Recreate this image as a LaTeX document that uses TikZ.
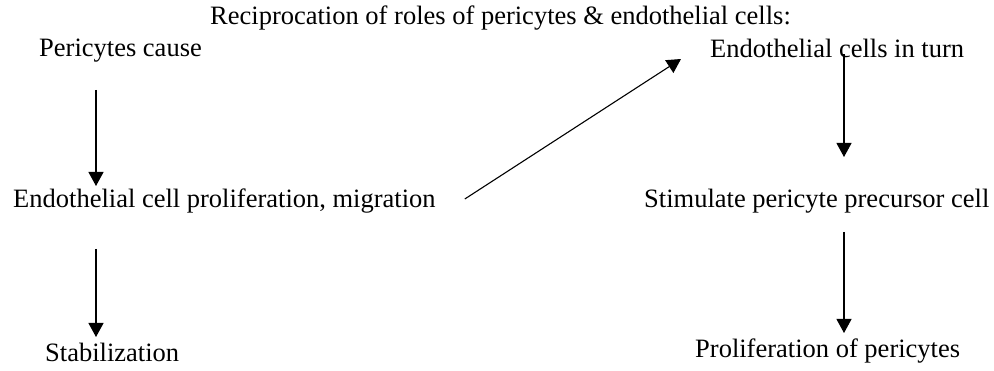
\documentclass[tikz,border=0pt]{standalone}
\usepackage{fontspec}
\setmainfont{Liberation Serif}
\usetikzlibrary{arrows.meta,calc}

\tikzset{
  lbl/.style={anchor=base west, inner sep=0pt, font=\fontsize{26.5}{30}\selectfont},
  arr/.style={-{Triangle[length=14pt,width=15pt]}, line width=1.1pt},
}

\begin{document}
\begin{tikzpicture}[x=1pt, y=-1pt]
    \useasboundingbox (0,0) rectangle (994,371);

    % Title
    \node[lbl] (title) at (210,25) {Reciprocation of roles of pericytes \& endothelial cells:};

    % Left column
    \node[lbl] (pc)   at (39,57)  {Pericytes cause};
    \node[lbl] (ecp)  at (13,208) {Endothelial cell proliferation, migration};
    \node[lbl] (stab) at (45,362) {Stabilization};

    % Right column
    \node[lbl] (ect) at (710,58)  {Endothelial cells in turn};
    \node[lbl] (spc) at (644,208) {Stimulate pericyte precursor cell};
    \node[lbl] (pop) at (695,358) {Proliferation of pericytes};

    % Arrow columns
    \coordinate (lx) at (96,0);
    \coordinate (rx) at (844,0);

    % Left arrows
    \draw[arr] ($(pc.base -| lx)+(0,33)$) -- ($(ecp.base -| lx)+(0,-22)$);
    \draw[arr] ($(ecp.base -| lx)+(0,41)$) -- ($(stab.base -| lx)+(0,-25)$);

    % Cross-over arrow
    \draw[arr] ($(ecp.base east)+(29,-9)$) -- ($(ect.base west)+(-29,1)$);

    % Right arrows
    \draw[arr] ($(ect.base -| rx)+(0,-3.5)$) -- ($(spc.base -| rx)+(0,-51)$);
    \draw[arr] ($(spc.base -| rx)+(0,24)$) -- ($(pop.base -| rx)+(0,-25)$);
\end{tikzpicture}
\end{document}
